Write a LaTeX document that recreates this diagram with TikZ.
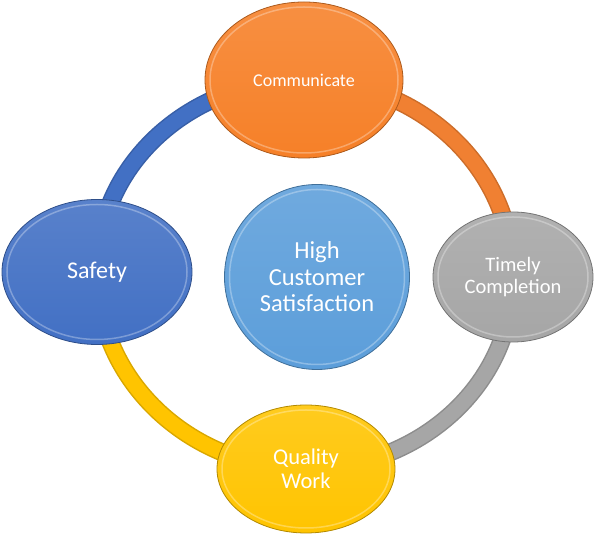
\documentclass[tikz,border=0pt]{standalone}
\usepackage{fontspec}
\setmainfont{Carlito}
\usetikzlibrary{shapes.geometric,calc,backgrounds}

\definecolor{commorange}{RGB}{246,128,40}
\definecolor{safetyblue}{RGB}{66,112,196}
\definecolor{centerblue}{RGB}{92,158,218}
\definecolor{timelygray}{RGB}{166,166,166}
\definecolor{qualityyellow}{RGB}{255,196,0}
\definecolor{ringorange}{RGB}{240,128,50}

\tikzset{
  bubble/.style={ellipse, inner sep=0pt, align=center, text=white,
    draw=#1!70!black, line width=0.8pt,
    top color=#1!88!white, bottom color=#1,
    path picture={\draw[white, opacity=0.3, line width=1.5pt]
      let \p1=($(path picture bounding box.north east)-(path picture bounding box.center)$)
      in (path picture bounding box.center) ellipse [x radius=\x1-5pt, y radius=\y1-5pt];}},
  ringarc/.style={line width=18pt, draw=#1!85!black,
    postaction={draw=#1, line width=15pt}},
}

\begin{document}
\begin{tikzpicture}[x=1pt, y=1pt]
\useasboundingbox (0,0) rectangle (595,535);

% the five bubbles
\node[bubble=commorange, minimum width=198pt, minimum height=156pt,
  font=\fontsize{18}{21}\selectfont] (comm) at (304,455) {Communicate};
\node[bubble=safetyblue, minimum width=190pt, minimum height=145pt,
  font=\fontsize{24}{28}\selectfont] (safety) at (97,263) {Safety};
\node[bubble=timelygray, minimum width=160pt, minimum height=130pt,
  font=\fontsize{20.5}{22}\selectfont] (timely) at (513,258) {Timely\\Completion};
\node[bubble=qualityyellow, minimum width=178pt, minimum height=128pt,
  font=\fontsize{22.5}{23.5}\selectfont] (quality) at (306,66) {Quality\\Work};
\node[bubble=centerblue, circle, minimum size=185pt,
  font=\fontsize{24.5}{26.5}\selectfont] (center) at (317,258) {High\\Customer\\Satisfaction};

% ring behind the bubbles
\begin{scope}[on background layer]
\draw[ringarc=safetyblue] (safety.center) to[out=90, in=180] (comm.center);
\draw[ringarc=ringorange] (comm.center) to[out=0, in=90] (timely.center);
\draw[ringarc=timelygray] (timely.center) to[out=270, in=0] (quality.center);
\draw[ringarc=qualityyellow] (quality.center) to[out=180, in=270] (safety.center);
\end{scope}

\end{tikzpicture}
\end{document}
